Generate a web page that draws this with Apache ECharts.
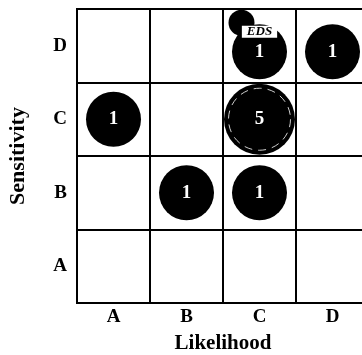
<!DOCTYPE html>
<html>
<head>
<meta charset="utf-8">
<script src="https://cdn.jsdelivr.net/npm/echarts@6/dist/echarts.min.js"></script>
<style>
html,body{margin:0;padding:0;background:#fff;}
#chart{width:362px;height:355px;}
</style>
</head>
<body>
<div id="chart"></div>
<script>
var likelihoodCats = ['A', 'B', 'C', 'D'];
var sensitivityCats = ['A', 'B', 'C', 'D'];
var riskLikelihood = ['C', 'D', 'A', 'C', 'B', 'C'];
var riskSensitivity = ['D', 'D', 'C', 'C', 'B', 'B'];
var riskCounts = [1, 1, 1, 5, 1, 1];
var edsLikelihood = ['C'];
var edsSensitivity = ['D'];
var edsLabels = ['EDS'];

var serif = '"Liberation Serif", "DejaVu Serif", serif';
var riskData = riskCounts.map(function (c, i) {
  return [riskLikelihood[i], riskSensitivity[i], c];
});
var ringData = riskData.filter(function (d) { return d[2] >= 5; });
var edsData = edsLabels.map(function (t, i) {
  return { value: [edsLikelihood[i], edsSensitivity[i]], name: t };
});

var chart = echarts.init(document.getElementById('chart'));
chart.setOption({
  animation: false,
  grid: { left: 77, top: 9, width: 292, height: 294, show: true, borderColor: '#000', borderWidth: 2, outerBoundsMode: 'none', containLabel: false },
  xAxis: {
    type: 'category', data: likelihoodCats, boundaryGap: true,
    name: 'Likelihood', nameLocation: 'middle', nameGap: 30,
    nameTextStyle: { fontFamily: serif, fontWeight: 'bold', fontSize: 21, color: '#000' },
    axisLine: { lineStyle: { color: '#000', width: 2 } },
    axisTick: { show: false },
    axisLabel: { fontFamily: serif, fontWeight: 'bold', fontSize: 19, color: '#000', margin: 5 },
    splitLine: { show: true, interval: 0, lineStyle: { color: '#000', width: 2 } }
  },
  yAxis: {
    type: 'category', data: sensitivityCats, boundaryGap: true,
    name: 'Sensitivity', nameLocation: 'middle', nameGap: 48, nameRotate: 90,
    nameTextStyle: { fontFamily: serif, fontWeight: 'bold', fontSize: 22, color: '#000' },
    axisLine: { lineStyle: { color: '#000', width: 2 } },
    axisTick: { show: false },
    axisLabel: { fontFamily: serif, fontWeight: 'bold', fontSize: 19, color: '#000', margin: 10 },
    splitLine: { show: true, interval: 0, lineStyle: { color: '#000', width: 2 } }
  },
  series: [
    {
      type: 'scatter', data: riskData, z: 3,
      symbolSize: function (v) { return v[2] >= 5 ? 71 : 55; },
      symbolOffset: function (v) { return v[1] === 'D' ? [0, 6] : [0, 0]; },
      itemStyle: { color: '#000', opacity: 1 },
      label: {
        show: true, position: 'inside', formatter: function (p) { return p.value[2]; },
        color: '#fff', fontFamily: serif, fontWeight: 'bold', fontSize: 19
      }
    },
    {
      type: 'scatter', data: ringData, z: 4, silent: true,
      symbolSize: 62,
      itemStyle: { color: 'rgba(0,0,0,0)', borderColor: '#fff', borderWidth: 1, borderType: [8, 6] },
      label: { show: false }
    },
    {
      type: 'scatter', data: edsData, z: 5,
      symbolSize: 26, symbolOffset: [-18, -23],
      itemStyle: { color: '#000', opacity: 1 },
      label: {
        show: true, position: 'inside', offset: [18, 9],
        formatter: function (p) { return p.name; },
        color: '#000', backgroundColor: '#fff', fontFamily: serif, fontStyle: 'italic',
        fontWeight: 'bold', fontSize: 13, padding: [0, 5, 0, 5], lineHeight: 12
      }
    }
  ]
});
</script>
</body>
</html>
